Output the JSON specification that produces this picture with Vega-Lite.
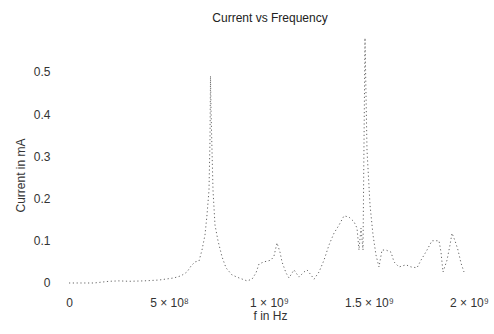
{
  "$schema": "https://vega.github.io/schema/vega-lite/v6.json",
  "autosize": "none",
  "width": 420,
  "height": 252,
  "padding": {"left": 60, "top": 38, "right": 14, "bottom": 44},
  "background": "white",
  "config": {
    "view": {"stroke": null},
    "font": "Liberation Sans",
    "axis": {"grid": false, "domain": false, "ticks": false, "labelFont": "Liberation Sans", "titleFont": "Liberation Sans", "labelColor": "#333", "titleColor": "#333", "labelFontSize": 12, "titleFontSize": 12, "titleFontWeight": "normal"}
  },
  "title": {"text": "Current vs Frequency", "fontSize": 12, "fontWeight": "normal", "color": "#222", "font": "Liberation Sans", "offset": 13, "anchor": "middle"},
  "data": {"values": [
    {"f": 0, "I": 0}, {"f": 5e7, "I": 0}, {"f": 1.25e8, "I": 0.0}, {"f": 2.0e8, "I": 0.004}, {"f": 2.5e8, "I": 0.005},
    {"f": 3.0e8, "I": 0.004}, {"f": 3.75e8, "I": 0.005}, {"f": 4.5e8, "I": 0.007}, {"f": 5.25e8, "I": 0.012},
    {"f": 5.6e8, "I": 0.017}, {"f": 5.9e8, "I": 0.026}, {"f": 6.1e8, "I": 0.04}, {"f": 6.3e8, "I": 0.05},
    {"f": 6.5e8, "I": 0.052}, {"f": 6.65e8, "I": 0.078}, {"f": 6.8e8, "I": 0.114}, {"f": 6.9e8, "I": 0.161},
    {"f": 7.0e8, "I": 0.22}, {"f": 7.05e8, "I": 0.34}, {"f": 7.075e8, "I": 0.49}, {"f": 7.1e8, "I": 0.41},
    {"f": 7.2e8, "I": 0.22}, {"f": 7.3e8, "I": 0.137}, {"f": 7.45e8, "I": 0.10}, {"f": 7.65e8, "I": 0.062},
    {"f": 7.85e8, "I": 0.036}, {"f": 8.15e8, "I": 0.019}, {"f": 8.5e8, "I": 0.012}, {"f": 8.9e8, "I": 0.005},
    {"f": 9.15e8, "I": 0.009}, {"f": 9.35e8, "I": 0.024}, {"f": 9.5e8, "I": 0.045}, {"f": 9.75e8, "I": 0.05},
    {"f": 1.01e9, "I": 0.054}, {"f": 1.025e9, "I": 0.064}, {"f": 1.04e9, "I": 0.095}, {"f": 1.055e9, "I": 0.073},
    {"f": 1.065e9, "I": 0.05}, {"f": 1.085e9, "I": 0.024}, {"f": 1.10e9, "I": 0.012}, {"f": 1.125e9, "I": 0.031},
    {"f": 1.15e9, "I": 0.014}, {"f": 1.175e9, "I": 0.026}, {"f": 1.19e9, "I": 0.031}, {"f": 1.21e9, "I": 0.019},
    {"f": 1.225e9, "I": 0.009}, {"f": 1.25e9, "I": 0.026}, {"f": 1.275e9, "I": 0.054}, {"f": 1.30e9, "I": 0.09},
    {"f": 1.325e9, "I": 0.118}, {"f": 1.35e9, "I": 0.137}, {"f": 1.375e9, "I": 0.159}, {"f": 1.40e9, "I": 0.156},
    {"f": 1.425e9, "I": 0.145}, {"f": 1.44e9, "I": 0.13}, {"f": 1.45e9, "I": 0.078}, {"f": 1.46e9, "I": 0.13},
    {"f": 1.47e9, "I": 0.078}, {"f": 1.48e9, "I": 0.58}, {"f": 1.49e9, "I": 0.315}, {"f": 1.505e9, "I": 0.185},
    {"f": 1.52e9, "I": 0.114}, {"f": 1.535e9, "I": 0.066}, {"f": 1.55e9, "I": 0.038}, {"f": 1.565e9, "I": 0.078},
    {"f": 1.585e9, "I": 0.078}, {"f": 1.61e9, "I": 0.073}, {"f": 1.625e9, "I": 0.05}, {"f": 1.65e9, "I": 0.038},
    {"f": 1.685e9, "I": 0.043}, {"f": 1.71e9, "I": 0.038}, {"f": 1.74e9, "I": 0.036}, {"f": 1.76e9, "I": 0.054},
    {"f": 1.79e9, "I": 0.078}, {"f": 1.815e9, "I": 0.10}, {"f": 1.85e9, "I": 0.10}, {"f": 1.86e9, "I": 0.073},
    {"f": 1.87e9, "I": 0.026}, {"f": 1.89e9, "I": 0.054}, {"f": 1.905e9, "I": 0.09}, {"f": 1.915e9, "I": 0.118},
    {"f": 1.93e9, "I": 0.10}, {"f": 1.945e9, "I": 0.078}, {"f": 1.96e9, "I": 0.047}, {"f": 1.975e9, "I": 0.026}
  ]},
  "mark": {"type": "line", "color": "#666", "strokeWidth": 1, "strokeDash": [1.2, 2.6], "clip": true, "interpolate": "linear"},
  "encoding": {
    "x": {
      "field": "f", "type": "quantitative",
      "scale": {"domain": [-4.5e7, 2.055e9], "nice": false, "zero": false},
      "axis": {
        "title": "f in Hz", "values": [0, 5e8, 1e9, 1.5e9, 2e9],
        "labelExpr": "datum.value == 0 ? '0' : datum.value == 5e8 ? '5 × 10⁸' : datum.value == 1e9 ? '1 × 10⁹' : datum.value == 1.5e9 ? '1.5 × 10⁹' : '2 × 10⁹'",
        "labelPadding": 7, "titlePadding": 2, "labelFlush": false
      }
    },
    "y": {
      "field": "I", "type": "quantitative",
      "scale": {"domain": [-0.0166, 0.58], "nice": false, "zero": false},
      "axis": {
        "title": "Current  in  mA", "values": [0, 0.1, 0.2, 0.3, 0.4, 0.5],
        "labelExpr": "datum.value == 0 ? '0' : format(datum.value, '.1f')",
        "labelPadding": 10, "titleX": -40, "titleY": 137, "titleBaseline": "middle", "labelFlush": false
      }
    }
  }
}
